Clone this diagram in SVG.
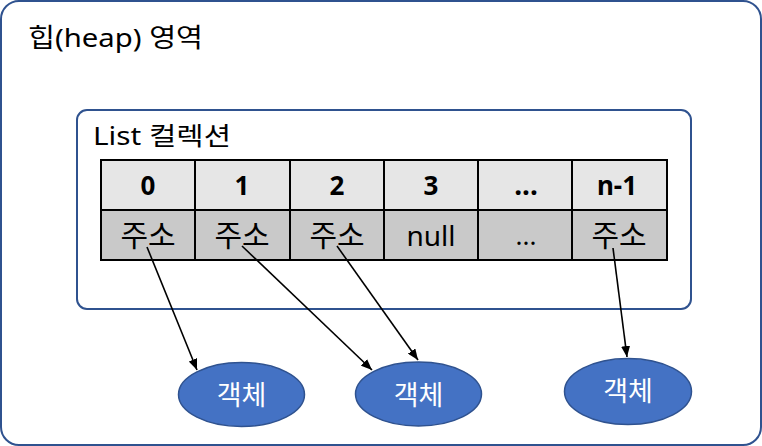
<svg xmlns="http://www.w3.org/2000/svg" width="762" height="446" viewBox="0 0 762 446">
<defs>
<style>
text{font-family:"Noto Sans","Noto Sans CJK KR",sans-serif;fill:#000}
.frame{fill:#fff;stroke:#2F528F;stroke-width:2}
.hd{fill:#E6E6E6;stroke:#000;stroke-width:2}
.cl{fill:#C9C9C9;stroke:#000;stroke-width:2}
.hdt{font-size:26px;font-weight:bold;text-anchor:middle}
.clt{font-size:30px;text-anchor:middle}
.obj{fill:#4472C4;stroke:#2F528F;stroke-width:1.5}
.objt{font-size:27px;fill:#fff;text-anchor:middle}
.conn{stroke:#000;stroke-width:1.6;fill:none;marker-end:url(#ah)}
</style>
<marker id="ah" viewBox="0 0 10 10" refX="10" refY="5" markerWidth="11" markerHeight="9" markerUnits="userSpaceOnUse" orient="auto" preserveAspectRatio="none"><path d="M0,0 L10,5 L0,10 z" fill="#000"/></marker>
</defs>
<g id="heap">
<rect class="frame" x="1" y="1" width="760" height="444" rx="18"/>
<text x="28" y="47" font-size="26" textLength="175" lengthAdjust="spacingAndGlyphs">힙(heap)  영역</text>
</g>
<g id="list">
<rect class="frame" x="77" y="110" width="614" height="199" rx="10"/>
<text x="93" y="145" font-size="25" textLength="138" lengthAdjust="spacingAndGlyphs">List 컬렉션</text>
</g>
<g id="table">
<rect class="hd" x="101" y="160" width="94" height="50"/>
<rect class="hd" x="195" y="160" width="95" height="50"/>
<rect class="hd" x="290" y="160" width="94" height="50"/>
<rect class="hd" x="384" y="160" width="94" height="50"/>
<rect class="hd" x="478" y="160" width="94" height="50"/>
<rect class="hd" x="572" y="160" width="95" height="50"/>
<rect class="cl" x="101" y="210" width="94" height="50"/>
<rect class="cl" x="195" y="210" width="95" height="50"/>
<rect class="cl" x="290" y="210" width="94" height="50"/>
<rect class="cl" x="384" y="210" width="94" height="50"/>
<rect class="cl" x="478" y="210" width="94" height="50"/>
<rect class="cl" x="572" y="210" width="95" height="50"/>
<text class="hdt" x="148" y="195">0</text>
<text class="hdt" x="242" y="195">1</text>
<text class="hdt" x="337" y="195">2</text>
<text class="hdt" x="431" y="195">3</text>
<text class="hdt" x="526" y="195" style="font-size:28px">...</text>
<text class="hdt" x="617" y="195">n-1</text>
<text class="clt" x="148" y="246">주소</text>
<text class="clt" x="242" y="246">주소</text>
<text class="clt" x="337" y="246">주소</text>
<text class="clt" x="431" y="246" style="font-size:28px">null</text>
<text class="clt" x="526" y="245" style="font-size:26px">...</text>
<text class="clt" x="619" y="246">주소</text>
</g>
<g id="obj1"><ellipse class="obj" cx="241.5" cy="394.5" rx="63" ry="32"/><text class="objt" x="241.5" y="405">객체</text></g>
<g id="obj2"><ellipse class="obj" cx="418.5" cy="394" rx="63" ry="32"/><text class="objt" x="418.5" y="405">객체</text></g>
<g id="obj3"><ellipse class="obj" cx="628" cy="391.5" rx="63.5" ry="33"/><text class="objt" x="628" y="401">객체</text></g>
<g id="connectors">
<line class="conn" x1="147" y1="247" x2="197" y2="370"/>
<line class="conn" x1="242" y1="246" x2="372" y2="370"/>
<line class="conn" x1="337" y1="246" x2="418" y2="360"/>
<line class="conn" x1="613" y1="248" x2="627" y2="357"/>
</g>
</svg>
